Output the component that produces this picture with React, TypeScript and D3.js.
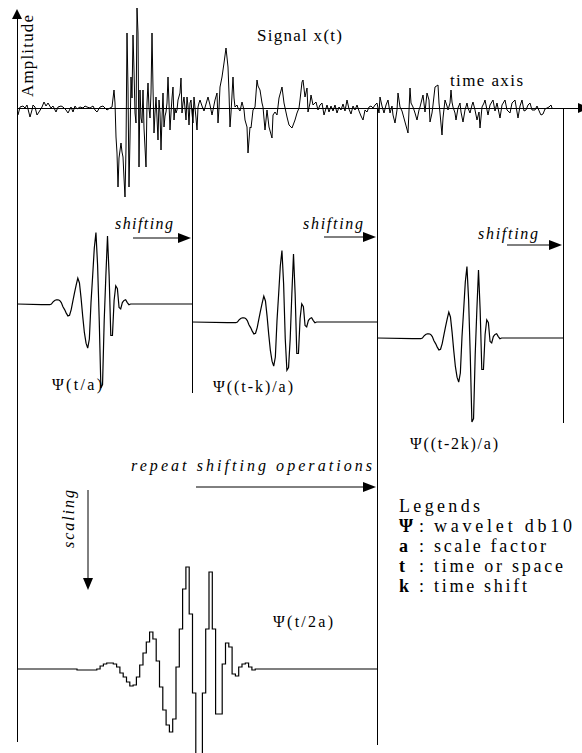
import React from "react";
import * as d3 from "d3";

// Recorded seismic trace: [time sample, amplitude]
const signalTrace: [number, number][] = [
  [1, -7], [3, 1], [6, 2], [8, 0], [10, 3], [13, -9], [15, -2], [16, 3], [18, 1], [20, -7], [22, -4], [25, 1], [27, 6], [29, 2], [31, 5], [34, 0], [36, 2], [39, -4], [41, 1], [44, 2], [46, 1], [49, -2], [51, -5], [54, 1], [56, -4], [58, 2], [60, -1], [63, 1], [66, 0], [68, 2], [70, 1], [73, 0], [76, 2], [78, -2], [80, -4], [83, 1], [86, 2], [88, 0], [90, -2], [93, 0], [95, 1],
  [97, 18], [98, 5], [99, -29], [100, -45], [101, -79], [102, -50], [104, -35], [105, -44], [106, -49], [107, -70], [108, -89], [109, -40], [110, 75], [111, 20], [112, -79], [113, -30], [114, 31], [115, 10], [116, 73], [117, 38], [118, -5], [119, -15], [120, 100], [121, 75], [122, -59], [123, 18], [124, -10], [125, -15], [126, 18], [127, -20], [129, -59], [130, 5], [131, 25], [132, 0], [133, -10], [134, 15], [135, 75], [136, 20], [137, -25], [138, -5], [139, 11], [140, -10], [141, -32], [142, 8], [143, -5], [144, -42], [145, -10], [146, 15], [147, -19], [148, -8], [149, -4], [150, 5], [151, 31], [152, 5], [153, -22], [154, -5], [155, 10], [156, 21], [157, -12], [158, 0], [159, -5], [160, -2], [161, 8], [163, 15], [164, 30], [165, -5], [166, 5], [167, 11], [168, 0], [169, -12], [170, 11], [171, 2], [172, -17], [173, 5], [174, 8], [175, -5], [176, -15], [177, 11], [178, 0], [179, -10], [180, -22], [181, 1], [182, 5], [183, 8],
  [185, 2], [187, -3], [189, 4], [191, 11], [193, 3], [195, -7], [197, 3], [198, 8], [200, 15], [201, -15], [202, 0], [203, 21], [205, 31], [207, 45], [209, 60], [211, 41], [212, 15], [213, -19], [214, -5], [216, 31], [217, 10], [218, 1], [220, 3], [221, 0], [223, -3], [225, 6], [227, -2], [228, -12], [230, -19], [231, -45], [233, -19], [234, -20], [236, -2], [238, 1], [240, 28], [241, 22], [243, 18], [245, 5], [246, 1], [248, -22], [250, -2], [252, -19], [255, -30], [256, -7], [258, -4], [260, -7], [262, 10], [265, 21], [267, 5], [270, -9], [272, -17], [275, -20], [278, -12], [280, -5], [282, 0], [283, 8], [285, 26], [286, 28], [288, 11], [290, 20], [291, -4], [293, 5], [294, 13], [296, 3], [299, 6], [301, -2], [303, 3], [305, 5], [307, -7], [310, 3],
  [312, -4], [314, 2], [316, -3], [318, 3], [320, -5], [322, 1], [324, -2], [326, 4], [328, -3], [330, 8], [332, -1], [334, -6], [336, 2], [338, -2], [340, 3], [342, -3], [344, -8], [346, -12], [348, -2], [350, -4], [352, 1], [354, 2], [356, 0], [358, 3], [360, 5], [362, -5], [363, 11], [365, 2], [367, -5], [369, 3], [371, 8], [373, -5], [375, 2], [376, -7], [378, -15], [380, -2], [381, 15], [383, 1], [385, -3], [388, -14], [391, -25], [393, 20], [394, 5], [396, 1], [398, -5], [400, -12], [402, -2], [403, 1], [406, 13], [408, -4], [410, 15], [412, 8], [413, -14], [415, -5], [416, 3], [418, 21], [421, 23], [422, 5], [423, -5], [425, -27], [426, -10], [428, 8], [430, 2], [431, -2], [433, 5], [434, 18], [435, 6], [436, 1], [438, -5], [439, -12], [441, 0], [443, 5], [444, -4], [446, -14], [448, -2], [450, 5], [451, 0], [453, -5], [455, 3], [456, 6], [458, -2], [460, -12], [462, -4], [463, -20], [465, 1], [467, 5], [468, 8], [470, -2], [471, -7], [473, 3], [476, 8], [478, -3], [480, 5], [483, -10], [485, 3], [488, 8], [490, -2], [493, -5], [495, 5], [498, 8], [501, -10], [503, 2], [505, 8], [507, -3], [509, -2], [511, 3], [513, 5], [515, -2], [518, -2], [520, 2], [523, -5], [524, -7], [526, -6], [528, -1], [530, 0], [532, 1], [534, 3], [535, 0],
];

// Daubechies db10 wavelet, sampled
const psiDb10 = [
  -1, -1, -1, -1, -1, -1, 0, 3, 5, 6, 6, 5, 2, -4, -8, -13, -17, -16, -8, 4, 16, 27, 37, 30, 8, -18, -41, -56,
  -63, -50, 2, 40, 80, 102, 55, -24, -120, -115, -24, 40, 97, 40, -45, -45, 5, 26, 22, -5, -7, 2, 5, 6, 2, -1, 0, 0,
];
// Same wavelet sampled at shift k (different sampling phase)
const psiDb10AtK = [
  -1, -1, -1, -1, -1, -1, 0, 3, 5, 6, 6, 5, 2, -4, -8, -13, -17, -16, -8, 4, 16, 27, 37, 30, 8, -18, -41, -56,
  -63, -50, 2, 40, 80, 102, 55, -24, -69, -65, -24, 40, 97, 40, -45, -45, 5, 26, 22, -5, -7, 2, 5, 6, 2, -1, 0, 0,
];

const waveletLabels = ["Ψ(t/a)", "Ψ((t-k)/a)", "Ψ((t-2k)/a)", "Ψ(t/2a)"];
const legendSymbols = ["Ψ", "a", "t", "k"];
const legendMeanings = ["wavelet db10", "scale factor", "time or space", "time shift"];

const W = 582;
const H = 753;
const FONT = "Liberation Serif, DejaVu Serif, serif";

const time = d3.scaleLinear().domain([0, 560]).range([17, 577]);
const amp = d3.scaleLinear().domain([-100, 100]).range([208, 8]);
const AXIS_Y = amp(0);

// Layout of the wavelet rows (window in time units, baseline, wavelet start, step, gain)
const rows = [
  { samples: psiDb10, t0: 0, t1: 175, base: 304, start: 24.5, dt: 1.65, gain: 0.7, stepped: false, lx: 52, ly: 390, lw: 50 },
  { samples: psiDb10AtK, t0: 175, t1: 360, base: 322, start: 210.5, dt: 1.65, gain: 0.7, stepped: false, lx: 213, ly: 392, lw: 80 },
  { samples: psiDb10, t0: 360, t1: 546, base: 338, start: 395.5, dt: 1.65, gain: 0.7, stepped: false, lx: 410, ly: 449, lw: 88 },
  { samples: psiDb10, t0: 0, t1: 360, base: 669, start: 60, dt: 3.3, gain: 1, stepped: true, lx: 273, ly: 627, lw: 60 },
];

type Pt = { t: number; v: number };

function waveletPath(r: (typeof rows)[number]) {
  const n = r.samples.length;
  const y = d3.scaleLinear().domain([-100, 100]).range([r.base + 100 * r.gain, r.base - 100 * r.gain]);
  const pts: Pt[] = [
    { t: r.t0, v: 0 },
    ...r.samples.map((v, i) => ({ t: r.start + i * r.dt, v })),
    { t: r.start + n * r.dt, v: 0 },
    { t: r.t1, v: 0 },
  ];
  return d3
    .line<Pt>()
    .x((d) => time(d.t))
    .y((d) => y(d.v))
    .curve(r.stepped ? d3.curveStepAfter : d3.curveLinear)(pts) as string;
}

const signalPath = d3
  .line<[number, number]>()
  .x((d) => time(d[0]))
  .y((d) => amp(d[1]))(signalTrace) as string;

function HArrow({ x1, x2, y }: { x1: number; x2: number; y: number }) {
  return (
    <g>
      <line x1={x1} y1={y} x2={x2 - 10} y2={y} stroke="#000" strokeWidth={1} />
      <polygon points={`${x2 - 13},${y - 5} ${x2},${y} ${x2 - 13},${y + 5}`} fill="#000" />
    </g>
  );
}

export default function App() {
  const boxEdges = [
    { t: 175, y2: 393 },
    { t: 360, y2: 745 },
    { t: 546, y2: 423 },
  ];
  const legendY = [532, 552, 572, 592];
  const legendW = [138, 112, 129, 93];
  return (
    <svg
      width={W}
      height={H}
      viewBox={`0 0 ${W} ${H}`}
      style={{ position: "absolute", left: 0, top: 0, background: "#fff" }}
      fontFamily={FONT}
    >
      <rect width={W} height={H} fill="#fff" />
      {/* amplitude axis */}
      <line x1={time(0)} y1={16} x2={time(0)} y2={742} stroke="#000" strokeWidth={1} shapeRendering="crispEdges" />
      <polygon points={`${time(0)},9 ${time(0) - 5},19 ${time(0) + 5},19`} fill="#000" />
      <text transform={`translate(33,97) rotate(-90)`} fontSize={17} textLength={82} lengthAdjust="spacing">
        Amplitude
      </text>
      {/* time axis */}
      <line x1={time(0)} y1={AXIS_Y} x2={578} y2={AXIS_Y} stroke="#000" strokeWidth={1} shapeRendering="crispEdges" />
      <polygon points={`578,${AXIS_Y - 5} 590,${AXIS_Y} 578,${AXIS_Y + 5}`} fill="#000" />
      {/* window boundaries */}
      {boxEdges.map((e, i) => (
        <line key={i} x1={time(e.t)} y1={AXIS_Y} x2={time(e.t)} y2={e.y2} stroke="#000" strokeWidth={1} shapeRendering="crispEdges" />
      ))}
      {/* signal */}
      <path d={signalPath} fill="none" stroke="#000" strokeWidth={1} />
      <text x={257} y={41} fontSize={17} textLength={85} lengthAdjust="spacing">
        Signal x(t)
      </text>
      <text x={450} y={86} fontSize={17} textLength={73} lengthAdjust="spacing">
        time axis
      </text>
      {/* wavelets */}
      {rows.map((r, i) => (
        <g key={i}>
          <path d={waveletPath(r)} fill="none" stroke="#000" strokeWidth={1.2} />
          <text x={r.lx} y={r.ly} fontSize={16} textLength={r.lw} lengthAdjust="spacing">
            {waveletLabels[i]}
          </text>
        </g>
      ))}
      {/* shifting arrows */}
      <text x={115} y={229} fontSize={16} fontStyle="italic" textLength={58} lengthAdjust="spacing">shifting</text>
      <HArrow x1={133} x2={191} y={238} />
      <text x={303} y={229} fontSize={16} fontStyle="italic" textLength={60} lengthAdjust="spacing">shifting</text>
      <HArrow x1={324} x2={376} y={237} />
      <text x={478} y={239} fontSize={16} fontStyle="italic" textLength={60} lengthAdjust="spacing">shifting</text>
      <HArrow x1={507} x2={562} y={245} />
      {/* repeat */}
      <text x={131} y={471} fontSize={16} fontStyle="italic" textLength={241} lengthAdjust="spacing">
        repeat shifting operations
      </text>
      <HArrow x1={196} x2={376} y={487} />
      {/* scaling */}
      <text transform={`translate(74,548) rotate(-90)`} fontSize={16} fontStyle="italic" textLength={58} lengthAdjust="spacing">
        scaling
      </text>
      <line x1={88} y1={490} x2={88} y2={582} stroke="#000" strokeWidth={1} />
      <polygon points={`83,578 88,590 93,578`} fill="#000" />
      {/* legend */}
      <text x={399} y={512} fontSize={18} textLength={81} lengthAdjust="spacing">Legends</text>
      {legendSymbols.map((s, i) => (
        <g key={s}>
          <text x={399} y={legendY[i]} fontSize={18} fontWeight="bold">{s}</text>
          <text x={419} y={legendY[i]} fontSize={18}>:</text>
          <text x={434} y={legendY[i]} fontSize={18} textLength={legendW[i]} lengthAdjust="spacing">
            {legendMeanings[i]}
          </text>
        </g>
      ))}
    </svg>
  );
}
